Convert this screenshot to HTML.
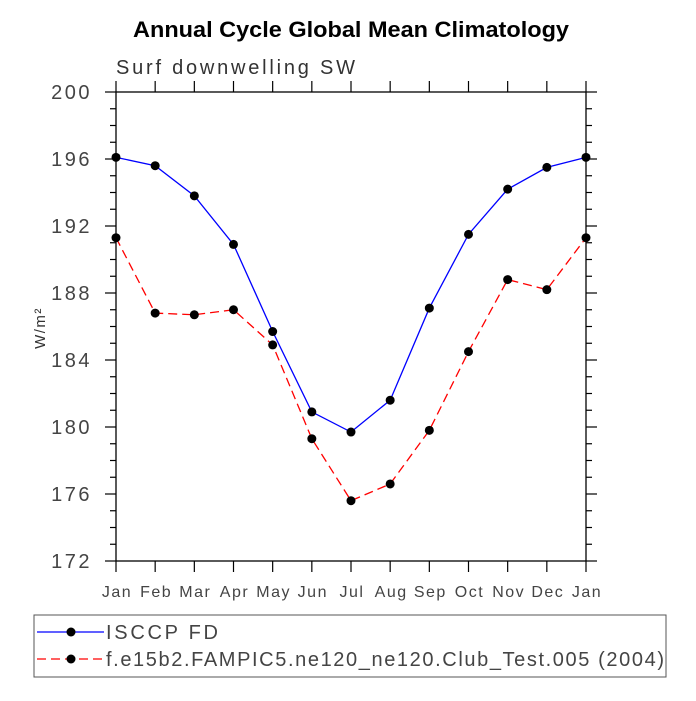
<!DOCTYPE html>
<html><head><meta charset="utf-8"><style>
body{margin:0;background:#fff;}
svg text{font-family:"Liberation Sans",sans-serif;}
</style></head><body>
<svg id="chart" width="696" height="696" xmlns="http://www.w3.org/2000/svg">
<text x="133" y="37" font-size="22" font-weight="bold" fill="#000" textLength="436" lengthAdjust="spacingAndGlyphs">Annual Cycle Global Mean Climatology</text>
<text x="116" y="74" font-size="20" fill="#333" textLength="239" lengthAdjust="spacing">Surf downwelling SW</text>
<text transform="translate(45,328) rotate(-90)" text-anchor="middle" font-size="15" fill="#333" letter-spacing="1.5">W/m²</text>
<g id="axes"></g>
<g id="series"></g>
<rect x="34" y="615" width="632" height="62" fill="none" stroke="#555" stroke-width="1"/>
<line x1="37" y1="632" x2="104" y2="632" stroke="#00f" stroke-width="1.3"/>
<circle cx="71" cy="632" r="4.5" fill="#000"/>
<text x="106" y="639" font-size="20" fill="#444" textLength="112" lengthAdjust="spacing">ISCCP FD</text>
<line x1="37" y1="659" x2="104" y2="659" stroke="#f00" stroke-width="1.3" stroke-dasharray="9,5"/>
<circle cx="71" cy="659" r="4.5" fill="#000"/>
<text x="106" y="666" font-size="20" fill="#444" textLength="558" lengthAdjust="spacing">f.e15b2.FAMPIC5.ne120_ne120.Club_Test.005 (2004)</text>
</svg>
<script>
const months=["Jan","Feb","Mar","Apr","May","Jun","Jul","Aug","Sep","Oct","Nov","Dec","Jan"];
const isccp=[196.1,195.6,193.8,190.9,185.7,180.9,179.7,181.6,187.1,191.5,194.2,195.5,196.1];
const model=[191.3,186.8,186.7,187.0,184.9,179.3,175.6,176.6,179.8,184.5,188.8,188.2,191.3];
const yTicks=[172,176,180,184,188,192,196,200];
const L=116,R=586,T=92,B=561,ymin=172,ymax=200;
const NS="http://www.w3.org/2000/svg";
function xs(i){return L+(R-L)*i/(months.length-1);}
function ys(v){return B-(B-T)*(v-ymin)/(ymax-ymin);}
function mk(tag,attrs,parent){const e=document.createElementNS(NS,tag);for(const k in attrs)e.setAttribute(k,attrs[k]);parent.appendChild(e);return e;}
const ax=document.getElementById('axes');
const frame=mk('rect',{x:L,y:T,width:R-L,height:B-T,fill:'none',stroke:'#000','stroke-width':1.3},ax);


for(let v=ymin;v<=ymax;v++){const y=ys(v);const maj=(v-ymin)%4===0;const len=maj?11:6;
 mk('line',{x1:L-len,y1:y,x2:L,y2:y,stroke:'#000','stroke-width':1.2},ax);
 mk('line',{x1:R,y1:y,x2:R+len,y2:y,stroke:'#000','stroke-width':1.2},ax);}
yTicks.forEach(v=>{const t=mk('text',{x:L-24,y:ys(v)+7,'text-anchor':'end','font-size':20,fill:'#444','letter-spacing':2.5},ax);t.textContent=v;
 
 });
months.forEach((m,i)=>{const x=xs(i);
 mk('line',{x1:x,y1:B,x2:x,y2:B+11,stroke:'#000','stroke-width':1.2},ax);
 mk('line',{x1:x,y1:T-11,x2:x,y2:T,stroke:'#000','stroke-width':1.2},ax);
 const t=mk('text',{x:x+1,y:B+36,'text-anchor':'middle','font-size':16,fill:'#444','letter-spacing':1.5},ax);t.textContent=m;
 
 });
const sg=document.getElementById('series');
function drawSeries(vals,color,dash,name){
 const pts=vals.map((v,i)=>xs(i)+','+ys(v)).join(' ');
 const pl=mk('polyline',{points:pts,fill:'none',stroke:color,'stroke-width':1.3,'stroke-dasharray':dash},sg);
 
 
 vals.forEach((v,i)=>{const c=mk('circle',{cx:xs(i),cy:ys(v),r:4.5,fill:'#000'},sg);
  
  });
}
drawSeries(model,'#f00','9,5','model');
drawSeries(isccp,'#00f','none','isccp');
</script>
</body></html>
